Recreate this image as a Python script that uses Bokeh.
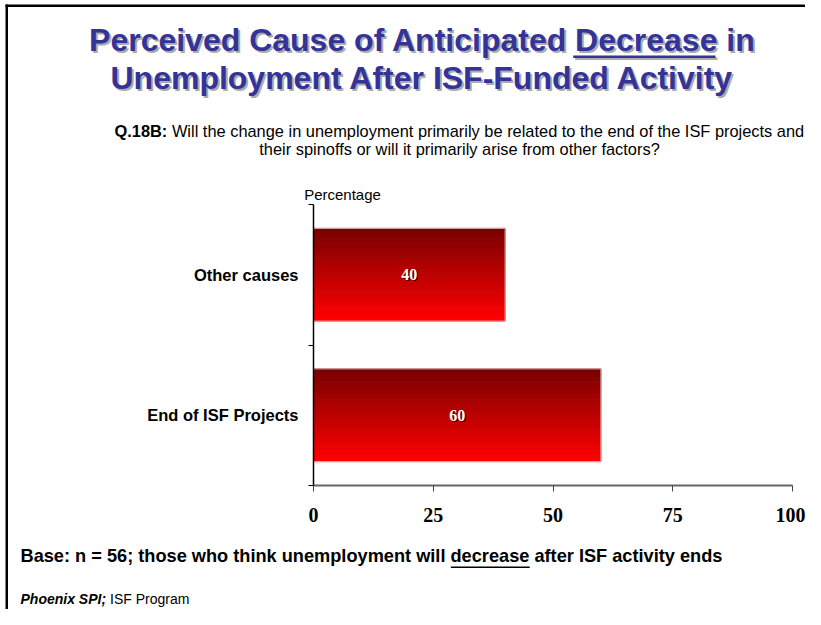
from bokeh.plotting import figure
from bokeh.models import Range1d, FixedTicker, Label, BoxAnnotation, ColumnDataSource
from bokeh.core.properties import value
from bokeh.embed import file_html
from bokeh.resources import INLINE

# ---- data ----
categories = ["End of ISF Projects", "Other causes"]   # bottom -> top
values = [60, 40]
value_labels = ["60", "40"]
x_ticks = [0, 25, 50, 75, 100]

title_line1 = "Perceived Cause of Anticipated Decrease in"
title_line2 = "Unemployment After ISF-Funded Activity"
q_bold = "Q.18B:"
q_rest1 = "Will the change in unemployment primarily be related to the end of the ISF projects and"
q_line2 = "their spinoffs or will it primarily arise from other factors?"
axis_caption = "Percentage"
base_note = "Base: n = 56; those who think unemployment will decrease after ISF activity ends"
source_bold = "Phoenix SPI;"
source_rest = "ISF Program"

# ---- layout (canvas pixels) ----
FL, FR, FT, FB = 313, 792, 204, 485     # plotting area edges in px
W, H = 805, 609
XMAX, YMAX = 100, 2


def fx(px):
    return (px - FL) / (FR - FL) * XMAX


def fy(py):
    return (FB - py) / (FB - FT) * YMAX


p = figure(width=W, height=H, output_backend="svg", toolbar_location=None,
           x_range=Range1d(fx(0), fx(W)), y_range=Range1d(fy(H), fy(0)),
           min_border=0)
p.background_fill_color = "white"
p.border_fill_color = "white"
p.outline_line_color = None
p.xgrid.visible = False
p.ygrid.visible = False

# ---- gradient bars built from strips ----
N = 60
bar_h = 0.66
strip = bar_h / N
ys, rights, cols = [], [], []
c0 = (0x78, 0x00, 0x00)
c1 = (0xff, 0x00, 0x00)
for i, v in enumerate(values):
    center = i + 0.5
    for k in range(N):
        t = k / (N - 1)
        r = int(round(c0[0] + (c1[0] - c0[0]) * t))
        g = int(round(c0[1] + (c1[1] - c0[1]) * t))
        b = int(round(c0[2] + (c1[2] - c0[2]) * t))
        ys.append(center + bar_h / 2 - strip * (k + 0.5))
        rights.append(v)
        cols.append("#%02x%02x%02x" % (r, g, b))
strips = ColumnDataSource(dict(y=ys, right=rights, color=cols))
p.hbar(y="y", left=0, right="right", height=strip, source=strips,
       fill_color="color", line_color="color", line_width=1)

bars = ColumnDataSource(dict(y=[i + 0.5 for i in range(len(values))], right=values,
                             xm=[v / 2 for v in values], lab=value_labels))
p.hbar(y="y", left=0, right="right", height=bar_h, source=bars,
       fill_color=None, line_color="#dcb4b4", line_width=1)

# value labels
p.text(x="xm", y="y", text="lab", source=bars, x_offset=1, y_offset=1,
       text_font=value("Liberation Serif"), text_font_style="bold",
       text_font_size="16px", text_color="#3a0000",
       text_align="center", text_baseline="middle")
p.text(x="xm", y="y", text="lab", source=bars,
       text_font=value("Liberation Serif"), text_font_style="bold",
       text_font_size="16px", text_color="white",
       text_align="center", text_baseline="middle")

# ---- axes (pinned to the data origin) ----
xa = p.xaxis[0]
xa.fixed_location = 0
xa.bounds = (0, XMAX)
xa.ticker = FixedTicker(ticks=x_ticks, minor_ticks=[])
xa.axis_line_color = "#666666"
xa.axis_line_width = 2
xa.major_tick_line_color = "#444444"
xa.major_tick_out = 6
xa.major_tick_in = 0
xa.minor_tick_line_color = None
xa.major_label_text_font = "Liberation Serif"
xa.major_label_text_font_style = "bold"
xa.major_label_text_font_size = "20px"
xa.major_label_text_color = "black"
xa.major_label_standoff = 16

ya = p.yaxis[0]
ya.fixed_location = 0
ya.bounds = (0, YMAX)
ya.ticker = FixedTicker(ticks=[i + 0.5 for i in range(len(categories))],
                        minor_ticks=[float(i) for i in range(len(categories) + 1)])
ya.major_label_overrides = {i + 0.5: c for i, c in enumerate(categories)}
ya.axis_line_color = "black"
ya.axis_line_width = 1.5
ya.major_tick_line_color = None
ya.major_tick_out = 0
ya.major_tick_in = 0
ya.minor_tick_line_color = "black"
ya.minor_tick_out = 5
ya.minor_tick_in = 0
ya.major_label_text_font = "Liberation Sans"
ya.major_label_text_font_style = "bold"
ya.major_label_text_font_size = "16.5px"
ya.major_label_text_color = "black"
ya.major_label_standoff = 10


def lab(text, px, base, size, color="black", style="normal", align="left",
        font="Liberation Sans"):
    # base = wanted baseline in px; the label sits a bit lower than its anchor
    p.add_layout(Label(x=fx(px), y=fy(base - 0.4 * size), text=text, text_font=font,
                       text_font_size="%.1fpx" % size, text_font_style=style,
                       text_color=color, text_align=align,
                       text_baseline="alphabetic"))


def rule(x0, x1, y0, y1, color):
    p.add_layout(BoxAnnotation(left=fx(x0), right=fx(x1), top=fy(y0), bottom=fy(y1),
                               fill_color=color, fill_alpha=1, line_color=None))


# ---- border (top and left) ----
rule(5, W, 4, 6.5, "black")
rule(5, 7.5, 4, H, "black")

# ---- title with shadow ----
TC = "#333399"
SH = "#ababab"
for dx, col in ((2, SH), (0, TC)):
    lab(title_line1, 422 + dx, 52 + dx, 32, col, "bold", "center")
    lab(title_line2, 422 + dx, 90 + dx, 32, col, "bold", "center")
    rule(572.7 + dx, 715 + dx, 55 + dx, 57.5 + dx, col)

# ---- question ----
QS = 16.4
lab(q_bold, 114, 137.5, QS, "black", "bold", "left")
lab(q_rest1, 171.4, 137.5, QS, "black", "normal", "left")
lab(q_line2, 459, 155.5, QS, "black", "normal", "center")

# ---- axis caption ----
lab(axis_caption, 342, 199.5, 15, "black", "normal", "center")

# ---- base note with underlined word ----
lab(base_note, 20, 563, 18.2, "black", "bold", "left")
rule(450.3, 529.2, 566, 567.5, "black")

# ---- source ----
lab(source_bold, 20, 604, 14, "black", "bold italic", "left")
lab(source_rest, 109.5, 604, 14, "black", "normal", "left")

open("out.html", "w").write(file_html(p, INLINE))
